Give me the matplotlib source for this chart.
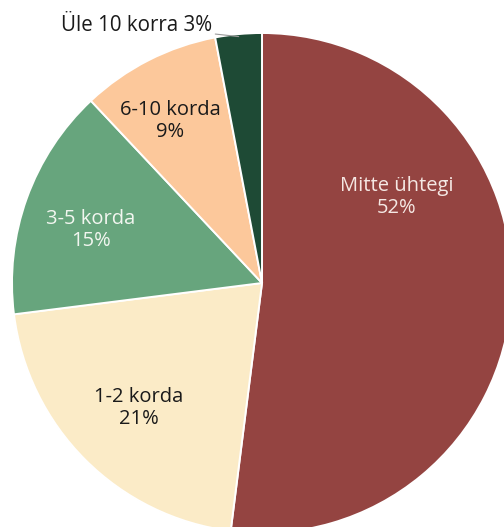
import matplotlib
import matplotlib.pyplot as plt
import numpy as np

matplotlib.use('Agg')

# data
categories = ['Mitte ühtegi', '1-2 korda', '3-5 korda', '6-10 korda', 'Üle 10 korra']
shares = [52, 21, 15, 9, 3]

colors = ['#944441', '#FBEBC7', '#67A57D', '#FCC89B', '#1E4A35']
text_colors = ['#F5E8E4', '#1A1A1A', '#F2F6F0', '#1A1A1A', '#1A1A1A']
# label block centres (data units, pie radius = 1)
label_pos = [(0.54, 0.344), (-0.492, -0.50), (-0.684, 0.212), (-0.368, 0.648)]

plt.rcParams['font.family'] = ['Open Sans', 'DejaVu Sans']

fig = plt.figure(figsize=(5.04, 5.27), dpi=100, facecolor='white')
ax = fig.add_axes([0, 0, 1, 1])

wedges, _ = ax.pie(
    shares, colors=colors, startangle=90, counterclock=False, radius=1.0,
    wedgeprops={'edgecolor': 'white', 'linewidth': 1.4},
)

for i in range(4):
    x, y = label_pos[i]
    ax.text(x, y, f'{categories[i]}\n{shares[i]}%', ha='center', va='center',
            fontsize=14.5, color=text_colors[i], linespacing=1.15)

# small slice gets an outside label with a leader line
w = wedges[4]
ang = np.deg2rad((w.theta1 + w.theta2) / 2)
ax.annotate(
    f'{categories[4]} {shares[4]}%',
    xy=(np.cos(ang) * 0.99, np.sin(ang) * 0.99),
    xytext=(-0.198, 1.03), ha='right', va='center', fontsize=14.8, color='#1A1A1A',
    arrowprops={'arrowstyle': '-', 'color': '#999999', 'lw': 0.8, 'shrinkA': 0, 'shrinkB': 0},
)

# pie is cropped by the frame on the right and bottom
ax.set_xlim(-262 / 250, 242 / 250)
ax.set_ylim(-244 / 250, 283 / 250)
ax.set_aspect('auto')
ax.axis('off')

fig.savefig('out.png', dpi=100, facecolor='white')
